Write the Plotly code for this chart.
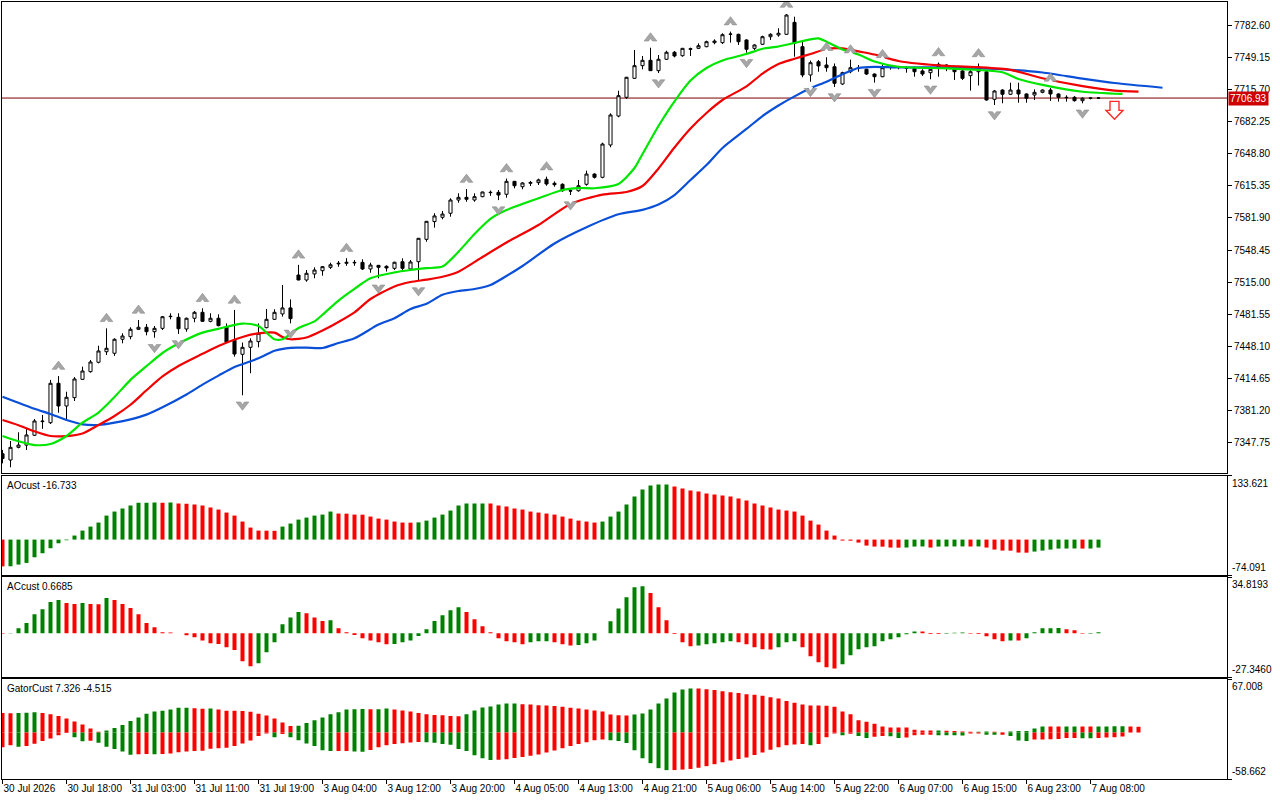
import plotly.graph_objects as go

# ---------------- data ----------------
bar_index = list(range(138))

opens = [7336.0, 7329.5, 7342.7, 7345.0, 7355.3, 7369.5, 7368.4, 7409.5, 7385.8, 7394.5,
         7413.6, 7421.6, 7431.4, 7442.4, 7440.8, 7455.4, 7458.1, 7465.8, 7467.9, 7463.3,
         7466.8, 7479.0, 7478.3, 7466.1, 7477.3, 7483.5, 7474.1, 7477.3, 7468.5, 7454.6,
         7439.7, 7447.0, 7452.9, 7467.5, 7476.2, 7481.8, 7488.1, 7522.4, 7517.2, 7523.5,
         7526.9, 7530.4, 7534.0, 7534.6, 7535.6, 7535.6, 7528.7, 7532.5, 7531.5, 7529.4,
         7536.3, 7528.7, 7536.3, 7559.6, 7578.1, 7582.6, 7586.8, 7600.6, 7603.4, 7600.6,
         7604.1, 7608.3, 7608.6, 7606.6, 7620.1, 7614.5, 7618.0, 7618.7, 7622.2, 7618.1,
         7617.0, 7610.3, 7610.3, 7617.0, 7627.7, 7624.3, 7658.0, 7688.2, 7707.7, 7727.5,
         7740.7, 7746.3, 7735.5, 7747.4, 7754.7, 7751.1, 7757.8, 7758.8, 7760.5, 7764.7,
         7764.7, 7773.4, 7773.4, 7767.5, 7758.8, 7763.0, 7770.9, 7772.7, 7773.4, 7785.9,
         7760.5, 7731.0, 7744.8, 7741.4, 7739.6, 7721.6, 7734.4, 7738.0, 7737.0, 7732.0,
         7729.2, 7739.0, 7739.0, 7738.6, 7738.0, 7735.2, 7733.4, 7742.1, 7741.4, 7738.0,
         7735.2, 7730.3, 7734.4, 7734.4, 7705.6, 7715.3, 7710.9, 7715.3, 7711.2, 7710.1,
         7712.9, 7715.3, 7711.2, 7707.7, 7707.7, 7704.2, 7706.7, 7706.9]
highs = [7340.0, 7349.3, 7358.4, 7361.8, 7372.3, 7376.5, 7413.0, 7417.0, 7400.7, 7416.0,
         7426.8, 7433.8, 7448.7, 7466.8, 7456.4, 7461.6, 7467.9, 7475.5, 7471.3, 7469.2,
         7479.7, 7482.5, 7482.5, 7478.0, 7484.9, 7487.7, 7482.5, 7481.4, 7472.0, 7486.0,
         7452.0, 7456.4, 7472.0, 7487.0, 7486.7, 7512.0, 7497.0, 7533.0, 7527.6, 7530.4,
         7531.8, 7535.2, 7537.0, 7540.0, 7538.0, 7538.8, 7535.2, 7532.8, 7532.5, 7536.3,
         7539.8, 7538.0, 7561.0, 7578.7, 7586.8, 7589.2, 7602.4, 7607.6, 7612.0, 7607.6,
         7609.3, 7610.5, 7611.0, 7623.0, 7620.5, 7619.1, 7620.5, 7622.9, 7625.0, 7620.0,
         7618.0, 7611.8, 7621.5, 7631.2, 7628.5, 7660.4, 7691.0, 7714.6, 7729.0, 7757.0,
         7750.8, 7759.4, 7751.8, 7756.3, 7756.0, 7759.0, 7759.5, 7764.0, 7766.8, 7768.2,
         7774.5, 7776.2, 7774.0, 7768.2, 7763.0, 7772.0, 7774.5, 7779.7, 7794.6, 7791.8,
         7765.7, 7746.0, 7746.6, 7749.5, 7743.0, 7734.4, 7747.0, 7741.4, 7737.5, 7732.5,
         7742.0, 7740.4, 7740.0, 7740.0, 7739.6, 7737.0, 7739.6, 7744.0, 7742.0, 7739.6,
         7736.2, 7739.6, 7743.0, 7736.2, 7715.3, 7716.0, 7722.9, 7722.9, 7711.9, 7716.0,
         7716.0, 7717.5, 7711.9, 7709.8, 7709.0, 7707.7, 7707.7, 7708.0]
lows = [7326.0, 7321.9, 7341.7, 7340.0, 7354.5, 7362.0, 7367.0, 7378.8, 7371.2, 7391.0,
        7413.0, 7420.6, 7430.3, 7439.0, 7438.0, 7451.2, 7455.4, 7465.0, 7459.5, 7457.0,
        7465.0, 7476.2, 7461.0, 7463.3, 7473.1, 7473.7, 7473.1, 7468.9, 7451.2, 7437.3,
        7397.0, 7420.0, 7447.0, 7466.8, 7475.5, 7479.0, 7472.0, 7517.0, 7515.4, 7519.0,
        7521.7, 7528.7, 7531.0, 7532.0, 7532.0, 7527.6, 7524.8, 7519.0, 7526.0, 7527.6,
        7527.6, 7527.6, 7516.2, 7557.1, 7571.8, 7580.5, 7583.2, 7597.8, 7598.8, 7598.8,
        7603.5, 7605.0, 7600.5, 7603.0, 7612.8, 7611.8, 7615.2, 7616.3, 7615.5, 7614.5,
        7609.3, 7605.8, 7609.3, 7615.5, 7623.0, 7623.3, 7655.6, 7686.9, 7706.0, 7727.0,
        7736.9, 7735.5, 7733.0, 7746.6, 7749.4, 7750.0, 7750.8, 7758.0, 7759.9, 7763.0,
        7763.3, 7764.7, 7762.3, 7754.2, 7757.0, 7762.3, 7767.5, 7770.9, 7772.7, 7750.1,
        7728.6, 7724.0, 7734.4, 7734.4, 7718.5, 7720.6, 7732.8, 7734.4, 7731.0, 7723.0,
        7728.6, 7736.5, 7736.9, 7733.4, 7729.2, 7730.0, 7726.5, 7729.2, 7735.0, 7725.8,
        7725.8, 7714.6, 7720.0, 7704.2, 7699.7, 7701.5, 7710.1, 7702.1, 7702.1, 7704.9,
        7712.0, 7703.9, 7703.2, 7703.2, 7703.2, 7701.5, 7705.6, 7706.0]
closes = [7331.0, 7342.7, 7345.1, 7355.6, 7370.2, 7370.0, 7409.5, 7385.8, 7394.9, 7414.0,
          7422.3, 7431.7, 7443.2, 7446.0, 7455.4, 7458.8, 7465.8, 7467.9, 7463.3, 7466.8,
          7478.9, 7479.3, 7466.4, 7477.3, 7483.5, 7474.1, 7477.3, 7469.6, 7452.2, 7440.0,
          7447.0, 7453.6, 7461.6, 7476.2, 7483.5, 7488.1, 7476.9, 7517.2, 7524.2, 7527.6,
          7531.1, 7533.1, 7534.6, 7535.6, 7535.2, 7528.7, 7532.8, 7530.4, 7529.7, 7535.7,
          7529.4, 7536.0, 7560.7, 7578.4, 7584.0, 7586.0, 7600.6, 7603.4, 7601.4, 7604.1,
          7609.0, 7608.6, 7605.8, 7620.1, 7615.5, 7618.4, 7618.9, 7621.6, 7617.3, 7616.6,
          7610.3, 7610.0, 7615.5, 7627.7, 7624.3, 7659.0, 7689.3, 7709.4, 7728.6, 7740.7,
          7746.3, 7735.5, 7747.4, 7754.7, 7750.8, 7758.8, 7758.3, 7761.5, 7765.7, 7766.4,
          7773.0, 7773.6, 7765.7, 7757.8, 7762.3, 7770.9, 7773.4, 7774.5, 7793.5, 7764.0,
          7731.0, 7743.8, 7740.4, 7738.6, 7722.3, 7733.4, 7738.6, 7738.2, 7732.0, 7729.2,
          7738.6, 7739.2, 7739.3, 7738.0, 7734.4, 7732.0, 7736.9, 7737.9, 7738.0, 7734.4,
          7727.5, 7734.4, 7738.0, 7704.9, 7714.3, 7710.9, 7715.3, 7711.2, 7706.7, 7712.9,
          7715.3, 7711.2, 7707.7, 7707.4, 7704.2, 7706.7, 7706.9, 7706.93]

# Alligator lines (bar position, price)
jaw_bars = [0, 4, 6, 8, 10, 12, 14, 16, 18, 20, 23, 25, 27, 29, 32, 34, 36, 38, 40, 42, 44, 47, 49, 51,
            53, 55, 57, 59, 61, 63, 65, 69, 73, 77, 80, 82, 84, 86, 88, 90, 93, 95, 97, 99, 101, 103,
            105, 107, 109, 112, 118, 122, 126, 130, 135, 139, 145]
jaw_vals = [7395.5, 7382.9, 7377.5, 7371.2, 7366.7, 7366.0, 7368.4, 7371.9, 7376.8, 7384.5, 7397.8,
            7408.1, 7417.5, 7426.5, 7435.5, 7443.4, 7446.5, 7446.6, 7446.3, 7451.5, 7456.4, 7470.7,
            7477.4, 7486.9, 7492.4, 7501.8, 7505.7, 7507.8, 7512.0, 7521.4, 7531.8, 7555.3, 7572.2,
            7585.7, 7590.4, 7595.9, 7605.8, 7621.5, 7637.1, 7654.9, 7674.7, 7688.2, 7699.2, 7708.7,
            7717.1, 7724.0, 7731.7, 7738.3, 7739.5, 7738.8, 7739.0, 7738.0, 7736.4, 7733.6, 7727.2,
            7722.6, 7717.7]
teeth_bars = [0, 2, 4, 6, 8, 10, 12, 14, 16, 18, 20, 22, 25, 27, 30, 32, 34, 35, 36, 38, 40, 42, 44, 46,
              49, 51, 53, 55, 57, 60, 63, 67, 71, 75, 78, 80, 82, 84, 86, 88, 90, 93, 95, 97, 99, 101,
              103, 105, 107, 109, 112, 118, 122, 126, 130, 135, 139, 142]
teeth_vals = [7371.2, 7365.8, 7359.4, 7354.5, 7354.5, 7357.2, 7366.0, 7375.4, 7387.1, 7402.2, 7416.6,
              7427.5, 7440.2, 7448.4, 7457.8, 7461.6, 7462.3, 7457.8, 7455.4, 7457.2, 7464.5, 7473.4,
              7483.4, 7497.4, 7510.5, 7515.1, 7517.6, 7520.6, 7525.9, 7541.2, 7556.3, 7574.6, 7596.5,
              7606.3, 7609.0, 7615.2, 7633.5, 7655.4, 7675.2, 7691.4, 7704.9, 7719.1, 7732.5, 7742.5,
              7747.9, 7752.9, 7758.1, 7758.7, 7755.6, 7752.3, 7745.6, 7740.4, 7739.1, 7736.4, 7727.6,
              7719.3, 7714.6, 7713.6]
lips_bars = [0, 2, 4, 6, 8, 10, 12, 14, 16, 18, 20, 22, 25, 27, 30, 32, 34, 35, 37, 39, 40, 42, 44, 46,
             49, 51, 53, 55, 57, 59, 61, 63, 67, 70, 72, 74, 77, 79, 80, 82, 84, 86, 88, 90, 93, 95, 97,
             99, 101, 102, 103, 105, 107, 109, 112, 118, 122, 125, 127, 130, 135, 140]
lips_vals = [7354.5, 7349.0, 7345.1, 7346.2, 7354.5, 7368.4, 7379.0, 7395.2, 7413.1, 7427.3, 7441.1,
             7450.9, 7462.3, 7466.3, 7471.8, 7469.2, 7455.4, 7455.4, 7467.1, 7474.0, 7481.0, 7495.8,
             7508.0, 7519.0, 7525.1, 7527.6, 7529.5, 7531.2, 7546.7, 7565.2, 7581.0, 7590.1, 7602.4,
             7611.1, 7613.1, 7612.9, 7617.3, 7634.0, 7648.6, 7677.8, 7703.4, 7725.2, 7738.3, 7746.1,
             7752.9, 7758.3, 7760.7, 7764.4, 7768.2, 7769.2, 7765.7, 7757.6, 7752.4, 7745.1, 7739.6,
             7737.9, 7736.2, 7733.8, 7726.8, 7720.6, 7713.5, 7711.2]

# Fractals (bar positions)
fractal_up_bars = [7, 13, 17, 25, 29, 37, 43, 58, 63, 68, 81, 91, 98, 103, 106, 110, 117, 122, 131]
fractal_down_bars = [19, 22, 30, 36, 47, 52, 62, 71, 82, 93, 101, 104, 109, 116, 124, 135]

# Sell signal
signal_bar = 139
signal_price = 7703.5

# AO
ao_vals = [-56.0, -55.8, -52.3, -48.8, -37.0, -28.6, -18.1, -7.7, -1.4, 8.4,
           18.8, 27.2, 35.6, 50.2, 58.6, 64.8, 71.1, 76.8, 77.3, 77.6,
           77.2, 77.5, 75.3, 75.0, 73.2, 71.1, 66.9, 62.8, 56.5, 50.2,
           37.7, 25.1, 18.8, 18.6, 18.4, 27.2, 33.5, 41.8, 46.0, 50.2,
           52.3, 58.6, 54.4, 54.2, 52.3, 52.1, 48.1, 43.9, 41.8, 37.7,
           35.6, 35.4, 36.0, 39.7, 46.0, 52.3, 60.7, 71.1, 75.3, 75.5,
           75.7, 75.4, 71.1, 69.0, 64.8, 62.8, 58.6, 56.5, 54.4, 52.3,
           48.1, 43.9, 39.7, 37.7, 35.6, 37.7, 48.1, 58.6, 73.2, 90.0,
           104.6, 113.0, 115.1, 115.3, 110.9, 106.7, 102.5, 100.4, 96.2, 94.1,
           92.0, 90.0, 85.8, 81.6, 75.3, 71.1, 66.9, 62.8, 60.7, 58.6,
           50.2, 39.7, 31.4, 18.8, 8.4, -2.1, -2.3, -6.3, -12.6, -14.6,
           -14.8, -16.7, -16.9, -16.6, -14.6, -14.4, -16.7, -14.6, -14.5, -14.4,
           -14.3, -14.5, -14.3, -16.7, -20.9, -23.0, -23.2, -27.2, -27.4, -25.1,
           -23.0, -20.9, -18.8, -18.7, -18.6, -18.8, -18.7, -16.733]

# AC
ac_vals = [-0.3, 0.2, 3.1, 6.4, 11.8, 14.9, 19.5, 20.7, 18.9, 18.2,
           18.9, 18.2, 18.0, 22.0, 20.7, 18.2, 15.7, 11.8, 6.4, 3.7,
           0.6, 0.5, 0.0, -1.2, -2.5, -4.4, -6.2, -6.6, -8.7, -10.4,
           -17.4, -20.5, -18.6, -11.8, -5.6, 5.6, 9.9, 13.3, 12.4, 9.9,
           7.7, 8.1, 3.1, 0.6, -1.0, -3.1, -4.4, -5.6, -6.8, -6.7,
           -5.6, -4.4, -1.7, 2.5, 7.7, 11.2, 14.3, 16.2, 13.3, 8.7,
           4.4, 0.6, -3.1, -5.0, -5.6, -6.8, -5.6, -5.0, -4.9, -5.6,
           -6.8, -7.5, -7.3, -6.2, -4.4, 0.0, 7.5, 15.5, 22.4, 28.6,
           29.2, 25.1, 16.2, 8.1, -0.5, -5.6, -8.1, -7.5, -6.8, -6.2,
           -5.6, -5.0, -5.6, -6.8, -8.7, -9.9, -10.0, -8.7, -5.6, -5.0,
           -8.7, -14.3, -18.0, -21.1, -21.8, -19.3, -13.7, -9.9, -8.7, -8.1,
           -5.0, -3.7, -2.5, -0.6, 1.2, 1.1, -0.4, -0.5, -0.3, 0.4,
           0.5, -0.3, -0.4, -1.9, -3.7, -5.0, -4.4, -4.5, -3.1, 0.6,
           3.1, 3.2, 3.3, 2.5, 1.9, -0.3, -0.2, 0.6685]

# Gator (upper shown above zero, lower shown below zero)
gator_upper_bars = list(range(143))
gator_upper = [24.4, 24.2, 24.5, 24.7, 25.6, 24.4, 23.0, 20.6, 17.6, 13.9,
               10.1, 5.0, 0.8, 2.5, 5.5, 9.5, 14.5, 19.0, 23.5, 26.5,
               27.5, 29.0, 31.0, 31.2, 30.5, 30.0, 30.2, 29.0, 27.5, 27.3,
               27.0, 26.0, 23.5, 21.5, 17.6, 12.5, 8.0, 8.5, 12.0, 15.5,
               19.0, 23.0, 25.5, 29.0, 29.3, 29.5, 29.2, 29.4, 30.3, 29.0,
               27.7, 26.5, 24.4, 23.1, 21.9, 21.8, 20.6, 20.5, 23.1, 27.7,
               31.5, 32.8, 35.3, 36.5, 36.6, 35.7, 35.3, 34.4, 34.0, 33.2,
               32.3, 31.1, 30.3, 29.0, 27.7, 26.5, 22.7, 21.8, 21.4, 22.7,
               24.0, 29.0, 36.6, 42.9, 50.4, 54.2, 55.5, 55.4, 54.6, 53.4,
               52.1, 50.8, 49.6, 48.3, 47.5, 46.2, 44.5, 42.9, 39.5, 37.4,
               35.3, 34.0, 33.9, 33.8, 32.4, 26.5, 23.1, 15.5, 13.4, 10.9,
               7.6, 6.3, 6.2, 6.1, 3.4, 2.5, 2.4, 2.6, 2.1, 1.7,
               1.3, 0.8, 0.9, 1.3, 1.0, 0.4, 1.3, 1.7, 1.8, 5.0,
               7.6, 7.5, 7.4, 7.5, 7.6, 7.5, 7.4, 7.5, 7.6, 7.7,
               7.8, 7.4, 7.3]
gator_lower_bars = list(range(141))
gator_lower = [18.5, 16.0, 18.0, 17.2, 14.3, 10.9, 7.6, 3.4, 0.8, 5.9,
               11.0, 10.5, 13.0, 18.0, 21.0, 24.0, 28.0, 27.5, 27.0, 27.5,
               27.0, 26.5, 25.0, 24.0, 23.5, 23.0, 20.5, 20.0, 19.2, 17.0,
               14.0, 10.0, 4.6, 1.2, 5.9, 2.0, 5.9, 9.7, 13.9, 17.2,
               22.5, 23.5, 23.4, 23.3, 24.0, 24.2, 22.0, 18.5, 16.0, 14.5,
               13.5, 12.6, 12.0, 12.2, 13.0, 14.5, 15.6, 20.9, 23.5, 28.8,
               32.5, 34.6, 34.3, 33.8, 32.3, 30.8, 29.3, 27.8, 25.3, 22.8,
               20.0, 17.2, 14.7, 12.2, 9.7, 8.8, 9.7, 10.9, 13.4, 22.3,
               32.4, 38.7, 45.0, 47.5, 47.4, 46.8, 46.0, 44.5, 42.5, 40.0,
               37.5, 35.5, 33.5, 31.5, 28.5, 25.3, 21.8, 18.5, 16.0, 15.1,
               14.7, 16.0, 14.7, 5.9, 1.3, 3.4, 1.7, 4.6, 7.1, 5.5,
               4.6, 4.7, 7.1, 6.3, 3.4, 2.9, 2.8, 3.4, 3.5, 3.6,
               3.8, 1.3, 1.2, 2.9, 3.0, 2.9, 4.6, 10.1, 10.9, 8.8,
               8.8, 8.7, 8.4, 7.1, 7.0, 7.2, 7.3, 7.1, 6.5, 6.0,
               5.0]

# Axis labels
time_tick_bars = [0, 8, 16, 24, 32, 40, 48, 56, 64, 72, 80, 88, 96, 104, 112, 120, 128, 136]
time_tick_labels = ["30 Jul 2026", "30 Jul 18:00", "31 Jul 03:00", "31 Jul 11:00", "31 Jul 19:00",
                    "3 Aug 04:00", "3 Aug 12:00", "3 Aug 20:00", "4 Aug 05:00", "4 Aug 13:00",
                    "4 Aug 21:00", "5 Aug 06:00", "5 Aug 14:00", "5 Aug 22:00", "6 Aug 07:00",
                    "6 Aug 15:00", "6 Aug 23:00", "7 Aug 08:00"]
price_ticks = [7782.60, 7749.15, 7715.70, 7682.25, 7648.80, 7615.35, 7581.90, 7548.45, 7515.00,
               7481.55, 7448.10, 7414.65, 7381.20, 7347.75]
last_price = 7706.93
ao_range = [-74.091, 133.621]
ac_range = [-27.3460, 34.8193]
gator_range = [-58.662, 67.008]
ao_title = "AOcust -16.733"
ac_title = "ACcust 0.6685"
gator_title = "GatorCust 7.326 -4.515"

# ---------------- styling ----------------
GREEN = "#008000"
RED = "#ff0000"
FONT = "Liberation Sans"


def updown_colors(vals):
    cols = []
    for i, v in enumerate(vals):
        if i == 0:
            cols.append(RED)
        else:
            cols.append(GREEN if v > vals[i - 1] else RED)
    return cols


# geometry (pixels): plot area x 2..1227 ; panels
M_L, M_R, H_TOP, H_BOT = 2, 53, 2, 21
plot_h = 800 - H_TOP - H_BOT
plot_w = 1280 - M_L - M_R
BAR_PX = 8.0


def dom(top_px, bot_px):
    return [(800 - H_BOT - bot_px) / plot_h, (800 - H_BOT - top_px) / plot_h]


x_range = [-0.0625, -0.0625 + plot_w / BAR_PX]
y_main_range = [7315.63, 7807.1]
MAIN_TOP, MAIN_BOT = 2, 473.3
price_per_px = (y_main_range[1] - y_main_range[0]) / (MAIN_BOT - MAIN_TOP)

# fractal glyph placement (pixels converted to price units)
frac_off = 9.5 * price_per_px
notch_off = 3.2 * price_per_px

fig = go.Figure()

fig.add_trace(go.Candlestick(
    x=bar_index, open=opens, high=highs, low=lows, close=closes,
    xaxis="x", yaxis="y", whiskerwidth=0,
    increasing=dict(line=dict(color="black", width=1), fillcolor="white"),
    decreasing=dict(line=dict(color="black", width=1), fillcolor="black"),
    hoverinfo="skip", showlegend=False))

for bx, vals, col in [(jaw_bars, jaw_vals, "#0a4fd8"),
                      (teeth_bars, teeth_vals, "#f00000"),
                      (lips_bars, lips_vals, "#00e600")]:
    fig.add_trace(go.Scatter(x=bx, y=vals, mode="lines", xaxis="x", yaxis="y",
                             line=dict(color=col, width=2.2, shape="spline", smoothing=0.7),
                             hoverinfo="skip", showlegend=False))

up_y = [highs[b] + frac_off for b in fractal_up_bars]
dn_y = [lows[b] - frac_off for b in fractal_down_bars]
fig.add_trace(go.Scatter(
    x=fractal_up_bars, y=up_y, mode="markers", xaxis="x", yaxis="y",
    marker=dict(symbol="triangle-up", size=11, color="#a6a6a6", line=dict(color="#8a8a8a", width=0.6)),
    hoverinfo="skip", showlegend=False))
fig.add_trace(go.Scatter(
    x=fractal_up_bars, y=[v - notch_off for v in up_y], mode="markers", xaxis="x", yaxis="y",
    marker=dict(symbol="triangle-up", size=5, color="white", line=dict(width=0)),
    hoverinfo="skip", showlegend=False))
fig.add_trace(go.Scatter(
    x=fractal_down_bars, y=dn_y, mode="markers", xaxis="x", yaxis="y",
    marker=dict(symbol="triangle-down", size=11, color="#a6a6a6", line=dict(color="#8a8a8a", width=0.6)),
    hoverinfo="skip", showlegend=False))
fig.add_trace(go.Scatter(
    x=fractal_down_bars, y=[v + notch_off for v in dn_y], mode="markers", xaxis="x", yaxis="y",
    marker=dict(symbol="triangle-down", size=5, color="white", line=dict(width=0)),
    hoverinfo="skip", showlegend=False))

fig.add_trace(go.Bar(x=bar_index, y=ao_vals, marker=dict(color=updown_colors(ao_vals), line=dict(width=0)),
                     width=0.5, xaxis="x2", yaxis="y2", hoverinfo="skip", showlegend=False))
fig.add_trace(go.Bar(x=bar_index, y=ac_vals, marker=dict(color=updown_colors(ac_vals), line=dict(width=0)),
                     width=0.5, xaxis="x3", yaxis="y3", hoverinfo="skip", showlegend=False))
fig.add_trace(go.Bar(x=gator_upper_bars, y=gator_upper,
                     marker=dict(color=updown_colors(gator_upper), line=dict(width=0)),
                     width=0.5, xaxis="x4", yaxis="y4", hoverinfo="skip", showlegend=False))
fig.add_trace(go.Bar(x=gator_lower_bars, y=[-v for v in gator_lower],
                     marker=dict(color=updown_colors(gator_lower), line=dict(width=0)),
                     width=0.5, xaxis="x4", yaxis="y4", hoverinfo="skip", showlegend=False))

axis_common = dict(showline=True, mirror=True, linecolor="black", linewidth=1,
                   showgrid=False, zeroline=False, fixedrange=True)
tickfont = dict(family=FONT, size=10, color="black")

layout = dict(
    width=1280, height=800,
    margin=dict(l=M_L, r=M_R, t=H_TOP, b=H_BOT, autoexpand=False),
    paper_bgcolor="white", plot_bgcolor="white",
    barmode="overlay", boxgap=0.45, showlegend=False, hovermode=False,
    xaxis=dict(axis_common, domain=[0, 1], range=x_range, anchor="y", showticklabels=False,
               ticks="", rangeslider=dict(visible=False)),
    xaxis2=dict(axis_common, domain=[0, 1], range=x_range, anchor="y2", showticklabels=False, ticks=""),
    xaxis3=dict(axis_common, domain=[0, 1], range=x_range, anchor="y3", showticklabels=False, ticks=""),
    xaxis4=dict(axis_common, domain=[0, 1], range=x_range, anchor="y4",
                tickmode="array", tickvals=time_tick_bars, ticktext=time_tick_labels,
                ticks="outside", ticklen=4, tickcolor="black", tickfont=tickfont,
                ticklabelposition="outside right"),
    yaxis=dict(axis_common, domain=dom(MAIN_TOP, MAIN_BOT), range=y_main_range, side="right", anchor="x",
               tickmode="array", tickvals=price_ticks, ticktext=[f"{v:.2f}" for v in price_ticks],
               ticks="outside", ticklen=4, tickcolor="black", tickfont=tickfont),
    yaxis2=dict(axis_common, domain=dom(475.7, 575), range=ao_range, side="right", anchor="x2",
                tickmode="array", tickvals=ao_range, showticklabels=False,
                ticks="outside", ticklen=4, tickcolor="black"),
    yaxis3=dict(axis_common, domain=dom(577.3, 677.3), range=ac_range, side="right", anchor="x3",
                tickmode="array", tickvals=ac_range, showticklabels=False,
                ticks="outside", ticklen=4, tickcolor="black"),
    yaxis4=dict(axis_common, domain=dom(679.3, 779), range=gator_range, side="right", anchor="x4",
                tickmode="array", tickvals=gator_range, showticklabels=False,
                ticks="outside", ticklen=4, tickcolor="black"),
)
fig.update_layout(**layout)

# last price line and label
fig.add_shape(type="line", xref="x domain", yref="y", x0=0, x1=1, y0=last_price, y1=last_price,
              line=dict(color="#7a0000", width=1), layer="below")
fig.add_annotation(xref="paper", yref="y", x=1, y=last_price, xanchor="left", xshift=1,
                   text=f"{last_price:.2f}", showarrow=False, bgcolor="#d00000",
                   font=dict(family=FONT, size=10, color="white"), borderpad=1)

# sell signal arrow (hollow, drawn in pixels around the signal point)
fig.add_shape(type="path", xref="x", yref="y", xsizemode="pixel", ysizemode="pixel",
              xanchor=signal_bar, yanchor=signal_price,
              path="M -4.5,0 L 4.5,0 L 4.5,-9 L 8.5,-9 L 0,-18 L -8.5,-9 L -4.5,-9 Z",
              line=dict(color="#ff2a2a", width=1.4), fillcolor="white")

# sub-window labels
for yref, rng, title in [("y2", ao_range, ao_title), ("y3", ac_range, ac_title),
                         ("y4", gator_range, gator_title)]:
    fmt = "{:.4f}" if yref == "y3" else "{:.3f}"
    fig.add_annotation(xref="paper", yref=yref, x=1, y=rng[1], xanchor="left", yanchor="top",
                       xshift=3, text=fmt.format(rng[1]), showarrow=False, font=tickfont)
    fig.add_annotation(xref="paper", yref=yref, x=1, y=rng[0], xanchor="left", yanchor="bottom",
                       xshift=3, text=fmt.format(rng[0]), showarrow=False, font=tickfont)
    fig.add_annotation(xref="paper", yref=yref + " domain", x=0, y=1, xanchor="left", yanchor="top",
                       xshift=3, yshift=-2, text=title, showarrow=False, font=tickfont)

fig.write_html("out.html", config={"displayModeBar": False, "staticPlot": True},
               post_script="document.body.style.margin='0px';document.body.style.overflow='hidden';")
